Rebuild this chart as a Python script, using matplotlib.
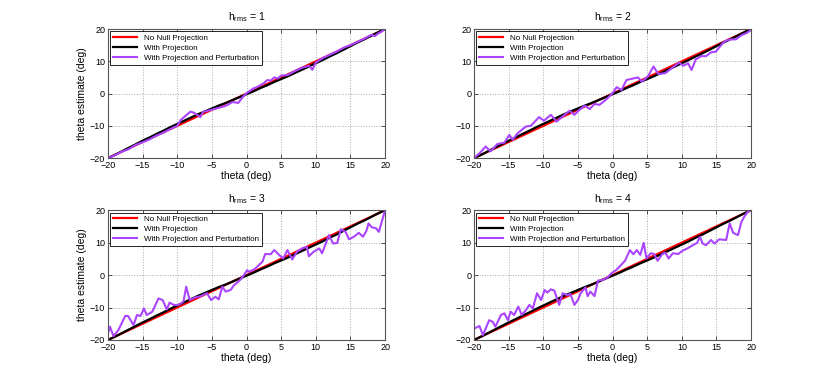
import matplotlib
matplotlib.use('Agg')
from matplotlib import pyplot as plt

plt.rcParams['font.family'] = ['Liberation Sans', 'DejaVu Sans']
plt.rcParams['mathtext.fontset'] = 'custom'
plt.rcParams['mathtext.rm'] = 'Liberation Sans'
plt.rcParams['axes.unicode_minus'] = True

###data###

theta = [-20, -19, -18, -17, -16, -15, -14, -13, -12, -11, -10, -9, -8, -7, -6, -5, -4,
         -3, -2, -1, 0, 1, 2, 3, 4, 5, 6, 7, 8, 9, 10, 11, 12, 13, 14, 15, 16, 17, 18, 19, 20]

# no null projection: estimate equals true angle
no_null = [-20, -19, -18, -17, -16, -15, -14, -13, -12, -11, -10, -9, -8, -7, -6, -5, -4,
           -3, -2, -1, 0, 1, 2, 3, 4, 5, 6, 7, 8, 9, 10, 11, 12, 13, 14, 15, 16, 17, 18, 19, 20]

with_proj = [-20, -19.0, -17.9, -16.8, -15.7, -14.6, -13.6, -12.5, -11.5, -10.4, -9.4, -8.4,
             -7.4, -6.4, -5.5, -4.6, -3.7, -2.9, -2.0, -1.1, -0.2, 0.7, 1.7, 2.6, 3.6, 4.5,
             5.4, 6.4, 7.4, 8.4, 9.4, 10.4, 11.5, 12.5, 13.6, 14.7, 15.8, 16.8, 17.9, 19.0, 20.0]

# with projection and perturbation, one (theta, estimate) list per h_rms
pert_x1 = [-20, -19, -18, -17, -16, -15, -14, -13, -12, -11, -10, -9.5, -8.1, -7.6, -6.65, -6.3,
           -5, -4, -3, -2, -1.2, -0.5, 0, 0.5, 1, 1.5, 2, 2.5, 3, 3.5, 4, 4.5, 5, 6, 7, 8, 9,
           9.5, 10, 11, 12, 13, 14, 15, 16, 17, 18, 18.5, 19, 19.5, 20]
pert_y1 = [-20, -19.1, -18, -17.2, -15.9, -15.1, -14.2, -13.0, -12.1, -11.0, -10.0, -8.2, -5.6,
           -5.9, -7.3, -5.7, -5.0, -4.4, -3.8, -2.6, -2.9, -1.0, 0.1, 0.9, 1.6, 2.0, 2.6, 3.2,
           4.2, 4.0, 5.0, 4.7, 5.6, 5.8, 7.0, 8.0, 8.6, 7.4, 9.6, 11.0, 12.0, 13.0, 14.2, 15.0,
           16.0, 17.0, 18.2, 17.8, 18.6, 19.2, 20.0]

pert_x2 = [-20, -19.2, -18.3, -17.6, -16.6, -15.6, -14.9, -14.4, -13.7, -12.5, -11.8, -10.6,
           -9.9, -8.9, -8.4, -8.1, -7.2, -6.2, -5.5, -4.8, -4.0, -3.3, -2.6, -1.9, -0.9, 0,
           0.6, 1.3, 2.0, 3.0, 3.7, 4.2, 5.1, 5.9, 6.6, 7.6, 8.5, 9.6, 10.2, 10.9, 11.4, 12.0,
           12.8, 13.5, 14.2, 14.9, 15.9, 16.4, 17.1, 17.8, 18.6, 19.3, 20]
pert_y2 = [-20, -18.5, -16.4, -17.9, -15.6, -15.2, -12.8, -14.3, -12.3, -10.2, -10.0, -7.3,
           -8.4, -6.6, -7.8, -8.7, -7.1, -5.3, -6.6, -5.1, -3.7, -4.8, -3.2, -3.5, -1.8, 0.1,
           2.0, 1.1, 4.2, 4.7, 5.0, 3.7, 5.3, 8.4, 6.1, 6.3, 7.8, 9.6, 8.6, 9.4, 7.3, 10.6,
           11.6, 11.6, 12.8, 13.0, 15.6, 16.4, 16.8, 16.8, 18.1, 18.7, 19.7]

pert_x3 = [-20, -19.7, -19.2, -18.5, -17.5, -17.1, -16.3, -15.8, -15.3, -14.8, -14.4, -13.6,
           -12.7, -12.1, -11.5, -11.1, -10.5, -9.8, -9.1, -8.7, -8.2, -7.4, -6.6, -5.7, -5.1,
           -4.5, -4.0, -3.5, -3.0, -2.3, -1.8, -1.2, -0.7, 0.1, 0.3, 1.1, 1.8, 2.3, 2.7, 3.5,
           4.0, 4.7, 5.3, 5.9, 6.6, 7.3, 8.0, 8.7, 9.0, 9.7, 10.5, 10.9, 11.9, 12.5, 13.1,
           13.6, 14.3, 14.8, 15.5, 16.2, 16.8, 17.3, 17.6, 18.1, 18.7, 19.1, 20]
pert_y3 = [-18.0, -15.9, -18.8, -17.0, -12.6, -12.6, -15.4, -12.3, -12.6, -10.3, -12.3, -11.3,
           -7.2, -7.7, -10.6, -8.5, -9.2, -9.2, -8.2, -3.6, -7.7, -6.9, -6.5, -5.6, -7.7,
           -6.7, -7.5, -3.6, -5.1, -4.6, -3.1, -2.1, -1.0, 1.5, 1.0, 1.7, 3.1, 4.1, 6.5, 6.4,
           7.7, 6.2, 5.1, 7.7, 4.8, 7.2, 8.2, 8.7, 5.8, 7.2, 8.2, 6.7, 12.3, 9.7, 9.9,
           14.1, 13.3, 11.0, 11.8, 13.0, 11.8, 13.6, 15.9, 14.7, 14.4, 13.3, 20.0]

pert_x4 = [-20, -19.2, -18.7, -17.8, -17.3, -16.9, -16.1, -15.6, -15.1, -14.7, -14.2, -13.6,
           -13.1, -12.5, -12.0, -11.5, -10.9, -10.3, -9.8, -9.4, -8.9, -8.4, -7.7, -7.2, -6.5,
           -6.1, -5.5, -5.0, -4.6, -3.9, -3.6, -3.2, -2.6, -2.1, -1.4, -0.7, -0.2, 0.5, 1.1,
           1.8, 2.5, 3.0, 3.5, 4.0, 4.5, 4.9, 5.5, 6.0, 6.5, 7.2, 7.6, 8.1, 8.7, 9.5, 10.1,
           10.8, 11.6, 12.2, 12.6, 13.0, 13.5, 14.2, 14.7, 15.4, 16.4, 16.9, 17.4, 18.1, 18.6,
           19.0, 19.5, 20]
pert_y4 = [-16.5, -15.7, -18.5, -13.9, -14.4, -15.9, -12.3, -11.8, -13.9, -11.3, -12.3, -9.7,
           -12.3, -10.8, -9.2, -10.3, -5.6, -7.7, -4.6, -5.4, -4.4, -4.8, -9.2, -5.6, -6.2,
           -5.8, -9.2, -7.7, -5.6, -3.8, -6.5, -5.1, -6.5, -1.7, -1.5, -0.7, 0.5, 1.5, 2.8,
           4.4, 7.7, 6.4, 7.7, 6.2, 9.9, 5.1, 6.7, 6.5, 4.4, 6.5, 6.9, 5.1, 6.7, 6.5, 7.5,
           8.2, 9.2, 9.9, 11.8, 9.7, 9.2, 10.8, 9.7, 11.0, 10.8, 15.9, 13.0, 12.3, 16.4,
           17.9, 19.5, 20.0]

h_rms = [1, 2, 3, 4]
pert_x = [pert_x1, pert_x2, pert_x3, pert_x4]
pert_y = [pert_y1, pert_y2, pert_y3, pert_y4]

###graph###

fig = plt.figure(figsize=(8.3, 3.82), dpi=100)
positions = [[0.130, 0.586, 0.334, 0.338], [0.571, 0.586, 0.334, 0.338],
             [0.130, 0.110, 0.334, 0.340], [0.571, 0.110, 0.334, 0.340]]

for k in range(4):
    ax = fig.add_axes(positions[k])
    ax.plot(theta, no_null, c='#ff0000', lw=1.6, label='No Null Projection')
    ax.plot(theta, with_proj, c='black', lw=1.6, label='With Projection')
    ax.plot(pert_x[k], pert_y[k], c='#aa44ff', lw=1.5, label='With Projection and Perturbation')
    ax.set_xlim(-20, 20)
    ax.set_ylim(-20, 20)
    ax.set_xticks([-20, -15, -10, -5, 0, 5, 10, 15, 20])
    ax.set_yticks([-20, -10, 0, 10, 20])
    ax.grid(True, ls=':', lw=0.7, c='#aaaaaa')
    ax.tick_params(direction='in', top=True, right=True, length=3, width=0.6,
                   labelsize=6.5, pad=2, colors='#333333', labelcolor='black')
    for s in ax.spines.values():
        s.set_color('#555555')
        s.set_linewidth(0.8)
    ax.set_title(r'h$_{\rm rms}$ = %d' % h_rms[k], fontsize=7.5, pad=6)
    ax.set_xlabel('theta (deg)', fontsize=7.5, labelpad=1)
    if k % 2 == 0:
        ax.set_ylabel('theta estimate (deg)', fontsize=7.5, labelpad=2)
    leg = ax.legend(loc='upper left', fontsize=5.8, fancybox=False, framealpha=1,
                    handlelength=3.0, borderpad=0.35, labelspacing=0.3, borderaxespad=0.3)
    leg.get_frame().set_edgecolor('black')
    leg.get_frame().set_linewidth(0.6)

plt.savefig('out.png', dpi=100)
